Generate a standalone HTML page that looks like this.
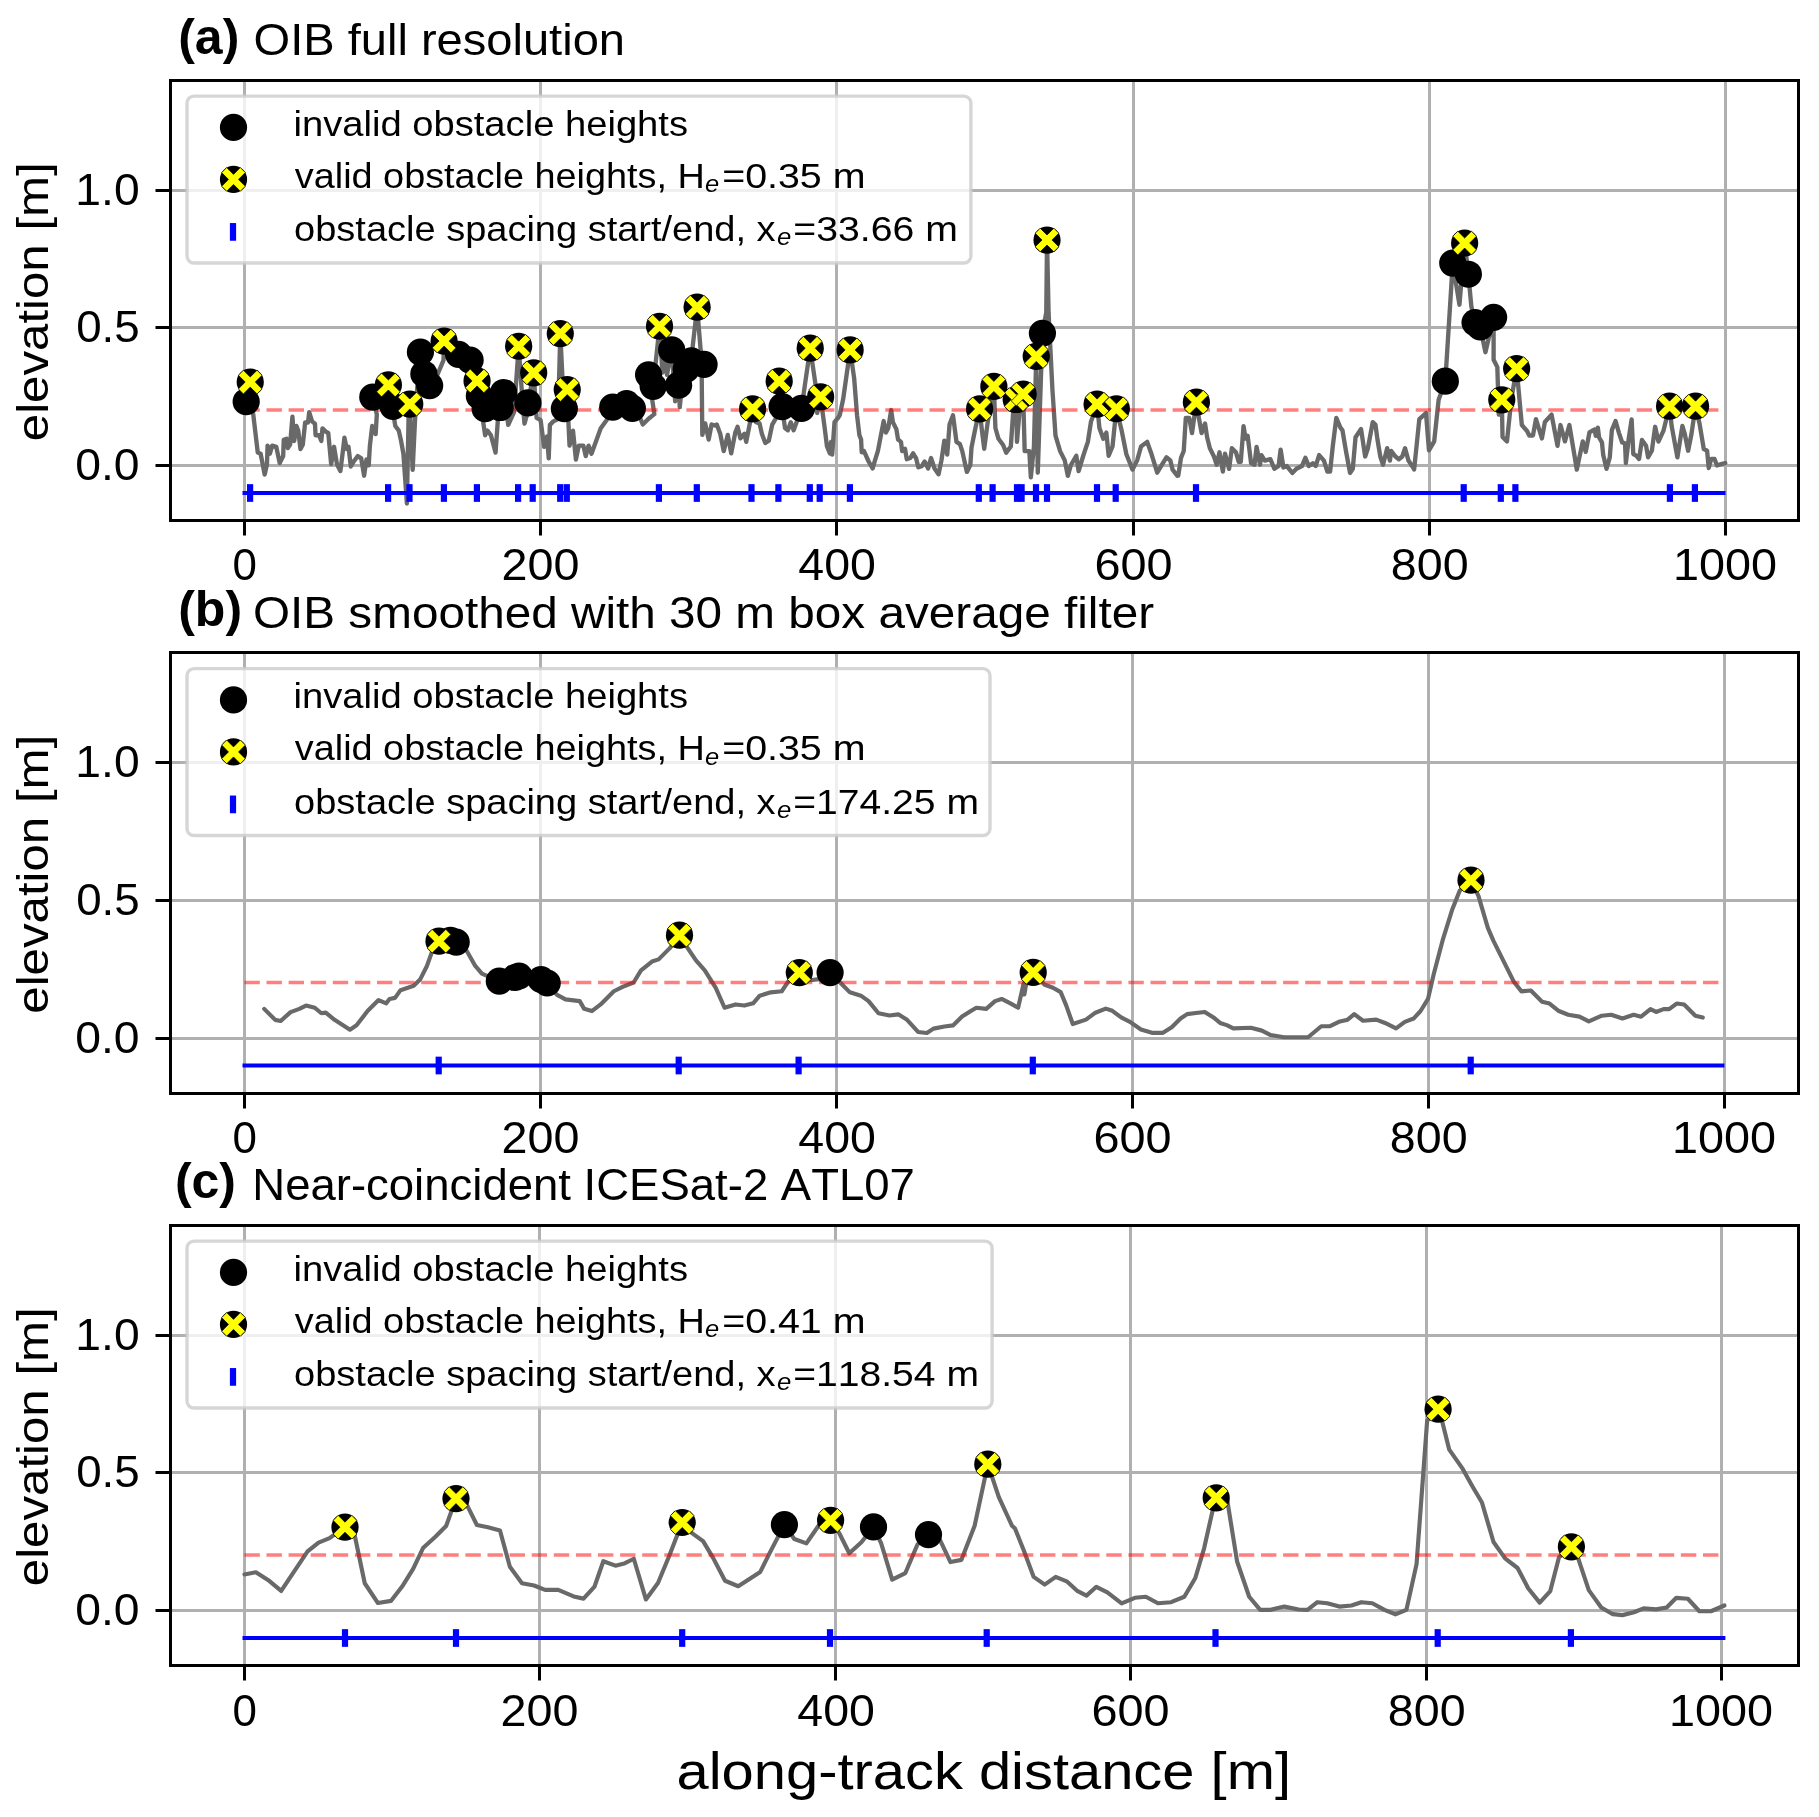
<!DOCTYPE html><html><head><meta charset="utf-8"><style>html,body{margin:0;padding:0;background:#fff;}svg{display:block;font-family:"Liberation Sans",sans-serif;font-kerning:none;will-change:transform;}</style></head><body>
<svg width="1819" height="1817" viewBox="0 0 1819 1817">
<rect width="1819" height="1817" fill="#fff"/>
<defs><clipPath id="clip0"><rect x="170.5" y="80.5" width="1628" height="440"/></clipPath></defs>
<g clip-path="url(#clip0)">
<line x1="244.5" y1="80.5" x2="244.5" y2="520.5" stroke="#b0b0b0" stroke-width="3"/>
<line x1="540.5" y1="80.5" x2="540.5" y2="520.5" stroke="#b0b0b0" stroke-width="3"/>
<line x1="836.5" y1="80.5" x2="836.5" y2="520.5" stroke="#b0b0b0" stroke-width="3"/>
<line x1="1133.5" y1="80.5" x2="1133.5" y2="520.5" stroke="#b0b0b0" stroke-width="3"/>
<line x1="1429.5" y1="80.5" x2="1429.5" y2="520.5" stroke="#b0b0b0" stroke-width="3"/>
<line x1="1725.5" y1="80.5" x2="1725.5" y2="520.5" stroke="#b0b0b0" stroke-width="3"/>
<line x1="170.5" y1="465.5" x2="1798.5" y2="465.5" stroke="#b0b0b0" stroke-width="3"/>
<line x1="170.5" y1="327.5" x2="1798.5" y2="327.5" stroke="#b0b0b0" stroke-width="3"/>
<line x1="170.5" y1="190.5" x2="1798.5" y2="190.5" stroke="#b0b0b0" stroke-width="3"/>
<polyline points="244.45,401.73 250.23,382.08 253.12,413.29 257.75,452.6 260.64,453.76 264.68,474.57 266.99,464.16 267.57,445.66 269.88,453.76 272.2,445.66 276.24,446.82 279.71,463.01 283.18,456.07 283.76,439.88 286.65,438.73 287.8,447.98 290.12,444.51 292.43,416.76 294.16,441.04 296.47,426.01 298.21,430.64 300.52,449.13 302.83,444.51 305.14,422.54 308.03,422.54 309.19,412.14 312.08,421.39 314.97,423.7 315.55,435.26 319.02,435.26 321.33,441.04 322.49,428.32 325.95,431.79 328.27,432.95 331.16,464.16 334.05,446.82 336.94,464.16 340.4,471.1 342.72,452.6 344.45,437.57 346.76,449.13 348.5,446.82 350.81,466.47 354.28,460.69 357.75,456.07 361.21,458.38 364.1,475.72 366.42,459.54 368.73,465.32 369.88,445.66 372.2,426.01 375.66,434.1 376.82,414.45 372.77,397.11 388.38,384.97 393.01,406.36 394.16,419.08 395.32,426.01 398.79,430.64 401.1,441.04 403.41,453.76 406.88,503.47 408.61,415.61 409.77,404.05 412.66,469.94 414.97,421.39 419.6,352.02 423.87,373.99 429.65,385.55 437.75,373.99 443.53,360.12 444.1,341.04 458.55,354.34 470.12,360.12 477.05,380.92 479.36,395.95 485.14,435.26 487.46,430.64 490.92,435.26 495.55,452.6 497.86,420.23 500.17,407.51 503.64,392.49 508.27,424.86 514.05,412.14 518.67,346.24 521.56,387.86 524.45,423.7 526.76,415.61 527.92,402.89 533.7,372.83 536.59,417.92 540.64,420.23 544.1,446.82 546.99,436.42 548.73,458.38 549.88,424.86 553.35,421.39 557.98,419.08 560.29,333.53 562.6,380.92 564.34,408.67 567.23,389.6 568.38,421.39 569.54,445.66 573.01,430.64 575.9,459.54 578.79,445.66 583.41,445.66 585.72,456.07 588.61,445.66 591.5,453.76 600.75,428.32 606.53,420.23 612.72,407.17 626.59,403.7 632.37,408.32 640.46,418.73 642.77,424.51 648.55,418.73 654.34,414.1 648.55,374.8 653.18,386.36 659.54,326.24 662.43,372.49 664.74,360.92 667.05,374.8 671.68,348.21 675.14,401.39 678.61,385.2 679.77,407.17 680.92,395.61 691.33,358.61 697.11,307.17 700.58,349.36 704.05,364.39 701.73,378.27 702.31,434.91 705.2,423.35 708.67,439.54 711.56,424.51 715.61,425.66 716.76,424.51 720.23,433.76 723.7,451.1 727.75,434.91 731.21,453.41 735.26,432.6 737.57,426.82 740.46,438.38 744.51,433.76 746.24,441.85 750.29,421.04 752.6,408.9 756.07,422.2 759.54,423.35 761.85,433.76 765.32,443.01 768.79,440.69 772.25,424.51 775.72,418.73 779.19,381.16 782.08,406.59 784.97,427.98 787.86,430.29 790.75,422.2 793.64,430.29 796.53,422.2 801.56,408.32 805.03,384.05 810.23,348.21 815.43,384.05 817.17,412.95 820.64,396.76 822.37,410.64 824.68,427.98 826.99,446.47 829.88,453.41 831.04,441.85 832.2,454.57 834.51,422.2 837.4,418.73 839.71,415.26 843.18,399.08 850.12,349.94 854.16,378.27 857.05,415.26 859.36,434.91 861.1,439.54 861.68,452.25 863.99,451.1 868.61,461.5 872.66,468.44 874.97,460.35 877.86,451.1 883.64,421.04 885.95,432.6 888.27,427.98 891.16,410.06 892.89,422.2 896.36,429.13 898.09,439.54 900.98,441.85 902.14,451.1 905.03,448.79 906.76,459.19 910.23,458.03 913.12,453.41 916.01,458.03 918.32,467.28 921.79,466.13 924.68,461.5 928.15,468.44 931.04,458.03 934.51,468.44 938.55,474.22 941.45,460.35 944.34,440.69 947.23,454.57 949.54,424.51 953.01,415.26 956.47,441.85 959.94,444.16 962.25,451.1 966.88,471.91 970.35,464.97 971.5,447.63 974.97,430.29 979.6,408.9 981.91,430.29 984.22,448.79 987.69,422.2 993.87,386.41 995.41,428.01 998.49,438.8 1003.11,444.96 1006.19,452.67 1010.82,446.5 1013.13,412.6 1016.21,399.51 1016.98,441.88 1020.06,404.9 1023.14,394.11 1024.68,451.12 1029.31,451.12 1030.85,477.32 1033.93,446.5 1036.24,356.36 1037.78,472.7 1042.4,333.25 1046.26,312.45 1047.03,240.03 1048.57,312.45 1052.42,389.49 1055.5,435.72 1060.12,451.12 1064.75,460.37 1067.83,475.78 1070.91,464.99 1076.3,455.75 1078.61,471.16 1083.24,455.75 1087.86,441.88 1090.94,421.85 1097.1,404.13 1099.41,428.01 1103.27,438.8 1106.35,432.63 1108.66,455.75 1112.51,446.5 1116.36,408.75 1121.76,431.09 1126.38,454.21 1132.54,469.61 1137.16,460.37 1141.02,446.5 1147.18,441.88 1151.03,452.67 1157.2,472.7 1161.82,464.99 1166.44,457.29 1170.29,460.37 1172.6,469.61 1177.23,475.78 1178.25,475.68 1181,457.82 1183.74,450.95 1185.81,417.96 1189.24,417.96 1191.99,433.08 1196.39,402.16 1198.86,417.96 1201.61,433.08 1205.05,423.46 1207.11,437.2 1209.86,448.2 1213.98,456.44 1216.73,464.69 1219.48,452.32 1222.91,471.56 1224.98,453.69 1229.1,468.81 1231.85,448.2 1235.97,452.32 1238.72,461.94 1240.78,461.94 1243.53,426.21 1245.59,438.58 1247.65,435.83 1251.09,463.32 1254.52,464.69 1256.59,446.82 1260.02,464.69 1261.4,455.07 1264.83,460.57 1270.33,459.19 1274.45,468.81 1278.58,466.06 1280.64,449.57 1283.39,467.44 1286.82,466.06 1292.32,472.94 1296.44,468.81 1301.94,466.06 1305.38,457.82 1308.81,466.06 1312.94,463.32 1315.68,466.06 1319.12,455.07 1323.93,460.57 1327.37,471.56 1330.12,471.56 1332.86,445.45 1336.3,417.96 1340.42,427.58 1342.48,430.33 1345.92,450.95 1350.04,472.94 1352.79,468.81 1355.54,437.2 1361.04,428.96 1365.16,456.44 1367.91,448.2 1372.72,422.08 1375.47,424.83 1377.53,439.95 1380.28,456.44 1383.03,464.69 1387.15,448.2 1389.9,460.57 1391.28,450.95 1395.4,456.44 1398.83,459.19 1402.27,456.44 1405.02,448.2 1408.46,460.57 1413.95,468.81 1414.12,469.63 1419.32,419.11 1426,413.16 1428.97,450.31 1434.18,441.4 1438.63,399.79 1445.32,381.22 1452.75,263.09 1459.44,304.7 1464.64,243.03 1468.35,274.23 1471.32,306.18 1475.04,322.53 1480.24,326.98 1485.44,352.24 1493.61,317.33 1493.61,359.67 1497.33,367.1 1498.81,414.65 1501.78,399.79 1502.53,436.94 1506.98,441.4 1511.44,398.31 1516.64,368.59 1521.84,425.05 1527.04,431 1529.27,435.45 1532.99,435.45 1535.96,419.11 1541.9,438.42 1544.87,422.08 1551.56,414.65 1557.5,445.85 1560.48,425.05 1564.93,441.4 1569.39,425.05 1576.82,469.63 1582.76,441.4 1585.74,451.8 1589.45,432.48 1594.65,429.51 1595.77,435.86 1597.83,427.62 1599.07,437.51 1601.96,442.46 1603.19,454.83 1606.49,468.85 1609.79,457.3 1611.85,430.09 1615.56,421.02 1618.86,432.57 1622.16,442.46 1625.05,443.29 1625.87,463.08 1628.76,438.34 1631.64,419.37 1633.29,454.01 1636.18,455.65 1639.06,458.95 1641.95,439.99 1646.07,445.76 1648.13,457.3 1651.85,450.71 1655.14,426.79 1658.44,441.64 1663.39,430.92 1669.57,406.18 1671.64,425.97 1677.41,457.3 1682.36,425.97 1684.83,434.21 1688.13,450.71 1691.43,434.21 1695.55,406.18 1699.67,424.32 1703.8,449.06 1707.09,450.71 1708.74,468.02 1711.22,458.95 1714.52,458.95 1716.99,465.55 1721.94,463.9 1725.24,463.08" fill="none" stroke="#696969" stroke-width="4.35" stroke-linejoin="round" stroke-linecap="round"/>
<line x1="244.4" y1="410" x2="1724.5" y2="410" stroke="#ff0000" stroke-opacity="0.5" stroke-width="3.7" stroke-dasharray="15.4 6.7"/>
<line x1="242.5" y1="493" x2="1725.5" y2="493" stroke="#0000ff" stroke-width="4"/>
<rect x="247" y="484.15" width="6.2" height="17.7" fill="#0000ff"/>
<rect x="385" y="484.15" width="6.2" height="17.7" fill="#0000ff"/>
<rect x="406.4" y="484.15" width="6.2" height="17.7" fill="#0000ff"/>
<rect x="440.8" y="484.15" width="6.2" height="17.7" fill="#0000ff"/>
<rect x="473.8" y="484.15" width="6.2" height="17.7" fill="#0000ff"/>
<rect x="515" y="484.15" width="6.2" height="17.7" fill="#0000ff"/>
<rect x="529.6" y="484.15" width="6.2" height="17.7" fill="#0000ff"/>
<rect x="557.1" y="484.15" width="6.2" height="17.7" fill="#0000ff"/>
<rect x="563.7" y="484.15" width="6.2" height="17.7" fill="#0000ff"/>
<rect x="655.8" y="484.15" width="6.2" height="17.7" fill="#0000ff"/>
<rect x="693.7" y="484.15" width="6.2" height="17.7" fill="#0000ff"/>
<rect x="748.4" y="484.15" width="6.2" height="17.7" fill="#0000ff"/>
<rect x="775.3" y="484.15" width="6.2" height="17.7" fill="#0000ff"/>
<rect x="806.7" y="484.15" width="6.2" height="17.7" fill="#0000ff"/>
<rect x="816.6" y="484.15" width="6.2" height="17.7" fill="#0000ff"/>
<rect x="846.8" y="484.15" width="6.2" height="17.7" fill="#0000ff"/>
<rect x="975.7" y="484.15" width="6.2" height="17.7" fill="#0000ff"/>
<rect x="989.5" y="484.15" width="6.2" height="17.7" fill="#0000ff"/>
<rect x="1013.9" y="484.15" width="6.2" height="17.7" fill="#0000ff"/>
<rect x="1018.5" y="484.15" width="6.2" height="17.7" fill="#0000ff"/>
<rect x="1032.9" y="484.15" width="6.2" height="17.7" fill="#0000ff"/>
<rect x="1043.9" y="484.15" width="6.2" height="17.7" fill="#0000ff"/>
<rect x="1093.9" y="484.15" width="6.2" height="17.7" fill="#0000ff"/>
<rect x="1112.6" y="484.15" width="6.2" height="17.7" fill="#0000ff"/>
<rect x="1192.9" y="484.15" width="6.2" height="17.7" fill="#0000ff"/>
<rect x="1460.6" y="484.15" width="6.2" height="17.7" fill="#0000ff"/>
<rect x="1497.7" y="484.15" width="6.2" height="17.7" fill="#0000ff"/>
<rect x="1512.3" y="484.15" width="6.2" height="17.7" fill="#0000ff"/>
<rect x="1666.8" y="484.15" width="6.2" height="17.7" fill="#0000ff"/>
<rect x="1691.8" y="484.15" width="6.2" height="17.7" fill="#0000ff"/>
<circle cx="752.6" cy="408.9" r="13.6" fill="#000"/>
<circle cx="979.6" cy="408.9" r="13.6" fill="#000"/>
<circle cx="1116.36" cy="408.75" r="13.6" fill="#000"/>
<circle cx="485.14" cy="408.67" r="13.6" fill="#000"/>
<circle cx="564.34" cy="408.67" r="13.6" fill="#000"/>
<circle cx="632.37" cy="408.32" r="13.6" fill="#000"/>
<circle cx="801.56" cy="408.32" r="13.6" fill="#000"/>
<circle cx="500.17" cy="407.51" r="13.6" fill="#000"/>
<circle cx="612.72" cy="407.17" r="13.6" fill="#000"/>
<circle cx="782.08" cy="406.59" r="13.6" fill="#000"/>
<circle cx="393.01" cy="406.36" r="13.6" fill="#000"/>
<circle cx="1669.57" cy="406.18" r="13.6" fill="#000"/>
<circle cx="1695.55" cy="406.18" r="13.6" fill="#000"/>
<circle cx="1097.1" cy="404.13" r="13.6" fill="#000"/>
<circle cx="409.77" cy="404.05" r="13.6" fill="#000"/>
<circle cx="626.59" cy="403.7" r="13.6" fill="#000"/>
<circle cx="527.92" cy="402.89" r="13.6" fill="#000"/>
<circle cx="1196.39" cy="402.16" r="13.6" fill="#000"/>
<circle cx="246.18" cy="401.73" r="13.6" fill="#000"/>
<circle cx="1501.78" cy="399.79" r="13.6" fill="#000"/>
<circle cx="1016.21" cy="399.51" r="13.6" fill="#000"/>
<circle cx="372.77" cy="397.11" r="13.6" fill="#000"/>
<circle cx="820.64" cy="396.76" r="13.6" fill="#000"/>
<circle cx="479.36" cy="395.95" r="13.6" fill="#000"/>
<circle cx="1023.14" cy="394.11" r="13.6" fill="#000"/>
<circle cx="503.64" cy="392.49" r="13.6" fill="#000"/>
<circle cx="567.23" cy="389.6" r="13.6" fill="#000"/>
<circle cx="993.87" cy="386.41" r="13.6" fill="#000"/>
<circle cx="653.18" cy="386.36" r="13.6" fill="#000"/>
<circle cx="429.65" cy="385.55" r="13.6" fill="#000"/>
<circle cx="678.61" cy="385.2" r="13.6" fill="#000"/>
<circle cx="388.38" cy="384.97" r="13.6" fill="#000"/>
<circle cx="250.23" cy="382.08" r="13.6" fill="#000"/>
<circle cx="1445.32" cy="381.22" r="13.6" fill="#000"/>
<circle cx="779.19" cy="381.16" r="13.6" fill="#000"/>
<circle cx="477.05" cy="380.92" r="13.6" fill="#000"/>
<circle cx="648.55" cy="374.8" r="13.6" fill="#000"/>
<circle cx="423.87" cy="373.99" r="13.6" fill="#000"/>
<circle cx="533.7" cy="372.83" r="13.6" fill="#000"/>
<circle cx="686.13" cy="369.02" r="13.6" fill="#000"/>
<circle cx="1516.64" cy="368.59" r="13.6" fill="#000"/>
<circle cx="704.05" cy="364.39" r="13.6" fill="#000"/>
<circle cx="691.33" cy="360.92" r="13.6" fill="#000"/>
<circle cx="470.12" cy="360.12" r="13.6" fill="#000"/>
<circle cx="1036.24" cy="356.36" r="13.6" fill="#000"/>
<circle cx="458.55" cy="354.34" r="13.6" fill="#000"/>
<circle cx="420.4" cy="352.02" r="13.6" fill="#000"/>
<circle cx="671.68" cy="349.94" r="13.6" fill="#000"/>
<circle cx="850.12" cy="349.94" r="13.6" fill="#000"/>
<circle cx="810.23" cy="348.21" r="13.6" fill="#000"/>
<circle cx="518.67" cy="346.24" r="13.6" fill="#000"/>
<circle cx="444.1" cy="341.04" r="13.6" fill="#000"/>
<circle cx="560.29" cy="333.53" r="13.6" fill="#000"/>
<circle cx="1042.4" cy="333.25" r="13.6" fill="#000"/>
<circle cx="1480.24" cy="326.98" r="13.6" fill="#000"/>
<circle cx="659.54" cy="326.24" r="13.6" fill="#000"/>
<circle cx="1475.04" cy="322.53" r="13.6" fill="#000"/>
<circle cx="1493.61" cy="317.33" r="13.6" fill="#000"/>
<circle cx="697.11" cy="307.17" r="13.6" fill="#000"/>
<circle cx="1468.35" cy="274.23" r="13.6" fill="#000"/>
<circle cx="1452.75" cy="263.09" r="13.6" fill="#000"/>
<circle cx="1464.64" cy="243.03" r="13.6" fill="#000"/>
<circle cx="1047.03" cy="240.03" r="13.6" fill="#000"/>
<polygon points="752.6,413.92 759.42,420.75 764.45,415.73 757.62,408.9 764.45,402.08 759.42,397.06 752.6,403.88 745.78,397.06 740.76,402.08 747.58,408.9 740.76,415.73 745.78,420.75" fill="#ffff00" stroke="#000" stroke-width="0.7"/>
<polygon points="979.6,413.92 986.42,420.75 991.44,415.73 984.62,408.9 991.44,402.08 986.42,397.06 979.6,403.88 972.77,397.06 967.75,402.08 974.57,408.9 967.75,415.73 972.77,420.75" fill="#ffff00" stroke="#000" stroke-width="0.7"/>
<polygon points="1116.36,413.77 1123.19,420.6 1128.21,415.58 1121.38,408.75 1128.21,401.93 1123.19,396.91 1116.36,403.73 1109.54,396.91 1104.52,401.93 1111.34,408.75 1104.52,415.58 1109.54,420.6" fill="#ffff00" stroke="#000" stroke-width="0.7"/>
<polygon points="1669.57,411.2 1676.4,418.02 1681.42,413 1674.59,406.18 1681.42,399.35 1676.4,394.33 1669.57,401.16 1662.75,394.33 1657.73,399.35 1664.55,406.18 1657.73,413 1662.75,418.02" fill="#ffff00" stroke="#000" stroke-width="0.7"/>
<polygon points="1695.55,411.2 1702.37,418.02 1707.39,413 1700.57,406.18 1707.39,399.35 1702.37,394.33 1695.55,401.16 1688.73,394.33 1683.71,399.35 1690.53,406.18 1683.71,413 1688.73,418.02" fill="#ffff00" stroke="#000" stroke-width="0.7"/>
<polygon points="1097.1,409.15 1103.93,415.97 1108.95,410.95 1102.12,404.13 1108.95,397.31 1103.93,392.29 1097.1,399.11 1090.28,392.29 1085.26,397.31 1092.08,404.13 1085.26,410.95 1090.28,415.97" fill="#ffff00" stroke="#000" stroke-width="0.7"/>
<polygon points="409.77,409.07 416.59,415.89 421.61,410.87 414.79,404.05 421.61,397.22 416.59,392.2 409.77,399.03 402.95,392.2 397.92,397.22 404.75,404.05 397.92,410.87 402.95,415.89" fill="#ffff00" stroke="#000" stroke-width="0.7"/>
<polygon points="1196.39,407.18 1203.21,414 1208.23,408.98 1201.41,402.16 1208.23,395.33 1203.21,390.31 1196.39,397.13 1189.56,390.31 1184.54,395.33 1191.37,402.16 1184.54,408.98 1189.56,414" fill="#ffff00" stroke="#000" stroke-width="0.7"/>
<polygon points="1501.78,404.81 1508.61,411.64 1513.63,406.62 1506.8,399.79 1513.63,392.97 1508.61,387.95 1501.78,394.77 1494.96,387.95 1489.94,392.97 1496.76,399.79 1489.94,406.62 1494.96,411.64" fill="#ffff00" stroke="#000" stroke-width="0.7"/>
<polygon points="1016.21,404.53 1023.03,411.35 1028.05,406.33 1021.23,399.51 1028.05,392.68 1023.03,387.66 1016.21,394.49 1009.39,387.66 1004.37,392.68 1011.19,399.51 1004.37,406.33 1009.39,411.35" fill="#ffff00" stroke="#000" stroke-width="0.7"/>
<polygon points="820.64,401.78 827.46,408.61 832.48,403.59 825.66,396.76 832.48,389.94 827.46,384.92 820.64,391.74 813.81,384.92 808.79,389.94 815.62,396.76 808.79,403.59 813.81,408.61" fill="#ffff00" stroke="#000" stroke-width="0.7"/>
<polygon points="1023.14,399.13 1029.97,405.96 1034.99,400.94 1028.16,394.11 1034.99,387.29 1029.97,382.27 1023.14,389.09 1016.32,382.27 1011.3,387.29 1018.12,394.11 1011.3,400.94 1016.32,405.96" fill="#ffff00" stroke="#000" stroke-width="0.7"/>
<polygon points="567.23,394.62 574.05,401.44 579.07,396.42 572.25,389.6 579.07,382.77 574.05,377.75 567.23,384.57 560.4,377.75 555.38,382.77 562.2,389.6 555.38,396.42 560.4,401.44" fill="#ffff00" stroke="#000" stroke-width="0.7"/>
<polygon points="993.87,391.43 1000.69,398.25 1005.71,393.23 998.89,386.41 1005.71,379.59 1000.69,374.57 993.87,381.39 987.04,374.57 982.02,379.59 988.85,386.41 982.02,393.23 987.04,398.25" fill="#ffff00" stroke="#000" stroke-width="0.7"/>
<polygon points="388.38,389.99 395.21,396.82 400.23,391.79 393.4,384.97 400.23,378.15 395.21,373.13 388.38,379.95 381.56,373.13 376.54,378.15 383.36,384.97 376.54,391.79 381.56,396.82" fill="#ffff00" stroke="#000" stroke-width="0.7"/>
<polygon points="250.23,387.1 257.05,393.92 262.08,388.9 255.25,382.08 262.08,375.26 257.05,370.24 250.23,377.06 243.41,370.24 238.39,375.26 245.21,382.08 238.39,388.9 243.41,393.92" fill="#ffff00" stroke="#000" stroke-width="0.7"/>
<polygon points="779.19,386.18 786.01,393 791.03,387.98 784.21,381.16 791.03,374.33 786.01,369.31 779.19,376.14 772.37,369.31 767.35,374.33 774.17,381.16 767.35,387.98 772.37,393" fill="#ffff00" stroke="#000" stroke-width="0.7"/>
<polygon points="477.05,385.95 483.88,392.77 488.9,387.75 482.07,380.92 488.9,374.1 483.88,369.08 477.05,375.9 470.23,369.08 465.21,374.1 472.03,380.92 465.21,387.75 470.23,392.77" fill="#ffff00" stroke="#000" stroke-width="0.7"/>
<polygon points="533.7,377.85 540.52,384.68 545.54,379.66 538.72,372.83 545.54,366.01 540.52,360.99 533.7,367.81 526.88,360.99 521.86,366.01 528.68,372.83 521.86,379.66 526.88,384.68" fill="#ffff00" stroke="#000" stroke-width="0.7"/>
<polygon points="1516.64,373.61 1523.47,380.43 1528.49,375.41 1521.66,368.59 1528.49,361.76 1523.47,356.74 1516.64,363.57 1509.82,356.74 1504.8,361.76 1511.62,368.59 1504.8,375.41 1509.82,380.43" fill="#ffff00" stroke="#000" stroke-width="0.7"/>
<polygon points="1036.24,361.38 1043.06,368.21 1048.08,363.19 1041.26,356.36 1048.08,349.54 1043.06,344.52 1036.24,351.34 1029.42,344.52 1024.4,349.54 1031.22,356.36 1024.4,363.19 1029.42,368.21" fill="#ffff00" stroke="#000" stroke-width="0.7"/>
<polygon points="850.12,354.96 856.94,361.79 861.96,356.77 855.14,349.94 861.96,343.12 856.94,338.1 850.12,344.92 843.29,338.1 838.27,343.12 845.1,349.94 838.27,356.77 843.29,361.79" fill="#ffff00" stroke="#000" stroke-width="0.7"/>
<polygon points="810.23,353.23 817.05,360.05 822.08,355.03 815.25,348.21 822.08,341.38 817.05,336.36 810.23,343.19 803.41,336.36 798.39,341.38 805.21,348.21 798.39,355.03 803.41,360.05" fill="#ffff00" stroke="#000" stroke-width="0.7"/>
<polygon points="518.67,351.26 525.49,358.09 530.51,353.07 523.69,346.24 530.51,339.42 525.49,334.4 518.67,341.22 511.85,334.4 506.83,339.42 513.65,346.24 506.83,353.07 511.85,358.09" fill="#ffff00" stroke="#000" stroke-width="0.7"/>
<polygon points="444.1,346.06 450.93,352.88 455.95,347.86 449.12,341.04 455.95,334.22 450.93,329.2 444.1,336.02 437.28,329.2 432.26,334.22 439.08,341.04 432.26,347.86 437.28,352.88" fill="#ffff00" stroke="#000" stroke-width="0.7"/>
<polygon points="560.29,338.55 567.11,345.37 572.13,340.35 565.31,333.53 572.13,326.7 567.11,321.68 560.29,328.51 553.47,321.68 548.44,326.7 555.27,333.53 548.44,340.35 553.47,345.37" fill="#ffff00" stroke="#000" stroke-width="0.7"/>
<polygon points="659.54,331.26 666.36,338.09 671.38,333.07 664.56,326.24 671.38,319.42 666.36,314.4 659.54,321.22 652.71,314.4 647.69,319.42 654.52,326.24 647.69,333.07 652.71,338.09" fill="#ffff00" stroke="#000" stroke-width="0.7"/>
<polygon points="697.11,312.19 703.93,319.01 708.95,313.99 702.13,307.17 708.95,300.34 703.93,295.32 697.11,302.15 690.29,295.32 685.27,300.34 692.09,307.17 685.27,313.99 690.29,319.01" fill="#ffff00" stroke="#000" stroke-width="0.7"/>
<polygon points="1464.64,248.05 1471.46,254.88 1476.48,249.85 1469.66,243.03 1476.48,236.21 1471.46,231.19 1464.64,238.01 1457.81,231.19 1452.79,236.21 1459.62,243.03 1452.79,249.85 1457.81,254.88" fill="#ffff00" stroke="#000" stroke-width="0.7"/>
<polygon points="1047.03,245.05 1053.85,251.87 1058.87,246.85 1052.05,240.03 1058.87,233.21 1053.85,228.19 1047.03,235.01 1040.2,228.19 1035.18,233.21 1042.01,240.03 1035.18,246.85 1040.2,251.87" fill="#ffff00" stroke="#000" stroke-width="0.7"/>
</g>
<rect x="170.5" y="80.5" width="1628" height="440" fill="none" stroke="#000" stroke-width="3" stroke-linejoin="miter"/>
<line x1="244.5" y1="520.5" x2="244.5" y2="535.5" stroke="#000" stroke-width="3"/>
<line x1="540.5" y1="520.5" x2="540.5" y2="535.5" stroke="#000" stroke-width="3"/>
<line x1="836.5" y1="520.5" x2="836.5" y2="535.5" stroke="#000" stroke-width="3"/>
<line x1="1133.5" y1="520.5" x2="1133.5" y2="535.5" stroke="#000" stroke-width="3"/>
<line x1="1429.5" y1="520.5" x2="1429.5" y2="535.5" stroke="#000" stroke-width="3"/>
<line x1="1725.5" y1="520.5" x2="1725.5" y2="535.5" stroke="#000" stroke-width="3"/>
<line x1="155.5" y1="465.5" x2="170.5" y2="465.5" stroke="#000" stroke-width="3"/>
<line x1="155.5" y1="327.5" x2="170.5" y2="327.5" stroke="#000" stroke-width="3"/>
<line x1="155.5" y1="190.5" x2="170.5" y2="190.5" stroke="#000" stroke-width="3"/>
<text transform="translate(232.59 580.3) scale(0.9938 1)" font-size="44.2" fill="#000">0</text>
<text transform="translate(501.59 580.3) scale(1.0562 1)" font-size="44.2" fill="#000">200</text>
<text transform="translate(798.37 580.3) scale(1.0525 1)" font-size="44.2" fill="#000">400</text>
<text transform="translate(1094.49 580.3) scale(1.0585 1)" font-size="44.2" fill="#000">600</text>
<text transform="translate(1390.8 580.3) scale(1.0548 1)" font-size="44.2" fill="#000">800</text>
<text transform="translate(1672.88 580.3) scale(1.0586 1)" font-size="44.2" fill="#000">1000</text>
<text transform="translate(75.24 480.1) scale(1.0477 1)" font-size="44.2" fill="#000">0.0</text>
<text transform="translate(76.13 342.1) scale(1.0349 1)" font-size="44.2" fill="#000">0.5</text>
<text transform="translate(75.36 205.1) scale(1.0457 1)" font-size="44.2" fill="#000">1.0</text>
<g transform="translate(48.4 302.4) rotate(-90)">
<text transform="translate(-138.76 0) scale(1.1310 1)" font-size="43.5" fill="#000">elevation [m]</text>
</g>
<text x="178.21" y="53.7" font-size="50" font-weight="bold">(a)</text>
<text transform="translate(253.57 54.8) scale(1.0700 1)" font-size="44" fill="#000">OIB full resolution</text>
<rect x="187" y="96.1" width="783.9" height="166.9" rx="7" ry="7" fill="#fff" fill-opacity="0.8" stroke="#cccccc" stroke-opacity="0.8" stroke-width="3.4"/>
<circle cx="233.5" cy="127.4" r="13.6" fill="#000"/>
<circle cx="233.5" cy="179.4" r="13.6" fill="#000"/><polygon points="233.5,184.42 240.32,191.24 245.34,186.22 238.52,179.4 245.34,172.58 240.32,167.56 233.5,174.38 226.68,167.56 221.66,172.58 228.48,179.4 221.66,186.22 226.68,191.24" fill="#ffff00" stroke="#000" stroke-width="0.7"/>
<rect x="229.9" y="223.05" width="6.2" height="17.7" fill="#0000ff"/>
<text transform="translate(293.45 135.8) scale(1.0937 1)" font-size="34.9" fill="#000">invalid obstacle heights</text>
<text transform="translate(294.77 187.7) scale(1.0844 1)" font-size="34.9" fill="#000">valid obstacle heights, H</text>
<text transform="translate(704.94 192.4) scale(1.0471 1)" font-size="24.4" font-style="italic" fill="#000">e</text>
<text transform="translate(722.18 187.7) scale(1.1281 1)" font-size="34.9" fill="#000">=0.35 m</text>
<text transform="translate(294.1 241) scale(1.0890 1)" font-size="34.9" fill="#000">obstacle spacing start/end, x</text>
<text transform="translate(777.03 245.4) scale(1.0555 1)" font-size="24.4" font-style="italic" fill="#000">e</text>
<text transform="translate(793.29 241) scale(1.1233 1)" font-size="34.9" fill="#000">=33.66 m</text>
<defs><clipPath id="clip1"><rect x="170.5" y="652.5" width="1628" height="441"/></clipPath></defs>
<g clip-path="url(#clip1)">
<line x1="244.5" y1="652.5" x2="244.5" y2="1093.5" stroke="#b0b0b0" stroke-width="3"/>
<line x1="540.5" y1="652.5" x2="540.5" y2="1093.5" stroke="#b0b0b0" stroke-width="3"/>
<line x1="836.5" y1="652.5" x2="836.5" y2="1093.5" stroke="#b0b0b0" stroke-width="3"/>
<line x1="1132.5" y1="652.5" x2="1132.5" y2="1093.5" stroke="#b0b0b0" stroke-width="3"/>
<line x1="1428.5" y1="652.5" x2="1428.5" y2="1093.5" stroke="#b0b0b0" stroke-width="3"/>
<line x1="1724.5" y1="652.5" x2="1724.5" y2="1093.5" stroke="#b0b0b0" stroke-width="3"/>
<line x1="170.5" y1="1038.5" x2="1798.5" y2="1038.5" stroke="#b0b0b0" stroke-width="3"/>
<line x1="170.5" y1="900.5" x2="1798.5" y2="900.5" stroke="#b0b0b0" stroke-width="3"/>
<line x1="170.5" y1="762.5" x2="1798.5" y2="762.5" stroke="#b0b0b0" stroke-width="3"/>
<polyline points="264.19,1008.85 275.18,1019.85 280.68,1020.95 290.58,1012.15 299.37,1008.85 305.97,1005.55 314.77,1007.75 321.36,1013.25 325.76,1012.59 334.56,1019.85 349.95,1029.74 356.55,1025.34 367.54,1011.05 378.54,1000.05 386.23,1003.35 389.53,998.96 395.03,997.86 400.53,990.16 413.72,985.76 420.32,979.16 426.92,965.97 432.41,950.58 439.01,941.78 456.6,942.88 466.5,950.58 475.29,965.97 481.89,973.67 499.48,981.36 518.17,975.87 540.16,979.16 546.76,982.46 556.66,994.56 565.45,999.4 579.75,1001.15 584.15,1008.85 591.84,1011.05 600.64,1004.45 613.83,991.26 622.63,986.86 633.62,982.46 641,970.37 651.99,961.57 658.59,959.37 669.58,948.38 679.48,935.18 687.17,947.28 695.97,960.47 704.77,970.37 715.76,987.96 724.56,1007.75 735.55,1004.45 744.35,1005.55 753.14,1003.35 759.74,995.66 770.74,992.36 781.73,991.26 788.33,981.36 799.32,972.57 810.32,980.26 819.11,979.16 830.11,972.57 841.11,983.56 849.9,992.36 860.9,995.66 868.59,1001.15 878.49,1013.25 889.48,1015.45 898.28,1014.35 907.08,1019.85 918.07,1031.94 926.87,1033.04 933.46,1028.64 944.46,1026.44 953.25,1025.34 962.05,1016.55 970.85,1011.05 976.34,1007.75 986.24,1008.85 995.04,1001.15 1001.63,998.96 1010.43,1003.35 1018.13,1007.75 1023.62,983.56 1024.4,994.35 1026.6,981.15 1033.19,972.36 1044.19,984.45 1052.99,987.75 1060.68,992.15 1066.18,1005.34 1072.78,1024.04 1085.97,1019.64 1094.77,1013.04 1105.76,1008.64 1112.36,1010.84 1121.15,1017.44 1129.95,1021.84 1140.95,1029.53 1151.94,1032.83 1162.94,1032.83 1171.73,1027.33 1180.53,1018.54 1187.12,1014.14 1195.92,1013.04 1204.72,1011.94 1213.51,1017.44 1220.11,1022.94 1226.71,1025.13 1233.3,1028.43 1250.9,1027.77 1261.89,1030.63 1270.69,1035.03 1283.88,1037.23 1294.88,1037.23 1308.07,1037.23 1321.26,1026.23 1330.06,1026.23 1338.86,1021.84 1347.65,1019.64 1354.25,1014.14 1363.05,1020.74 1376.24,1019.64 1385.04,1022.94 1396.03,1028.43 1404.83,1021.84 1413.62,1018.54 1420.56,1011.03 1428.04,998.88 1433.64,974.58 1442.99,939.07 1452.34,909.16 1459.81,890.47 1471.03,880.19 1478.5,896.07 1487.85,927.85 1493.46,940.93 1504.67,963.36 1514.02,982.06 1521.5,991.4 1530.84,990.47 1542.06,1001.68 1549.53,1003.55 1558.88,1011.03 1568.22,1014.77 1579.44,1016.64 1588.79,1021.31 1601.87,1015.7 1611.21,1014.77 1622.43,1018.5 1633.64,1014.77 1641.12,1016.64 1650.47,1009.16 1656.07,1011.96 1663.55,1009.16 1669.16,1009.16 1676.64,1003.55 1684.11,1004.49 1695.33,1015.7 1702.8,1017.57" fill="none" stroke="#696969" stroke-width="4.15" stroke-linejoin="round" stroke-linecap="round"/>
<line x1="244.4" y1="982.5" x2="1723.4" y2="982.5" stroke="#ff0000" stroke-opacity="0.5" stroke-width="3.7" stroke-dasharray="15.4 6.7"/>
<line x1="242.5" y1="1065.5" x2="1724.4" y2="1065.5" stroke="#0000ff" stroke-width="4"/>
<rect x="435.6" y="1056.65" width="6.2" height="17.7" fill="#0000ff"/>
<rect x="675.6" y="1056.65" width="6.2" height="17.7" fill="#0000ff"/>
<rect x="795.5" y="1056.65" width="6.2" height="17.7" fill="#0000ff"/>
<rect x="1029.7" y="1056.65" width="6.2" height="17.7" fill="#0000ff"/>
<rect x="1467.6" y="1056.65" width="6.2" height="17.7" fill="#0000ff"/>
<circle cx="547.2" cy="983" r="13.6" fill="#000"/>
<circle cx="499.3" cy="981.2" r="13.6" fill="#000"/>
<circle cx="541" cy="979.5" r="13.6" fill="#000"/>
<circle cx="515.1" cy="977.5" r="13.6" fill="#000"/>
<circle cx="519.1" cy="976" r="13.6" fill="#000"/>
<circle cx="799.3" cy="972.6" r="13.6" fill="#000"/>
<circle cx="830.1" cy="972.6" r="13.6" fill="#000"/>
<circle cx="1033.2" cy="972.4" r="13.6" fill="#000"/>
<circle cx="456.2" cy="942.1" r="13.6" fill="#000"/>
<circle cx="439" cy="941.2" r="13.6" fill="#000"/>
<circle cx="450.5" cy="940.3" r="13.6" fill="#000"/>
<circle cx="679.5" cy="935.2" r="13.6" fill="#000"/>
<circle cx="1471" cy="880.2" r="13.6" fill="#000"/>
<polygon points="799.3,977.62 806.12,984.44 811.14,979.42 804.32,972.6 811.14,965.78 806.12,960.76 799.3,967.58 792.48,960.76 787.46,965.78 794.28,972.6 787.46,979.42 792.48,984.44" fill="#ffff00" stroke="#000" stroke-width="0.7"/>
<polygon points="1033.2,977.42 1040.02,984.24 1045.04,979.22 1038.22,972.4 1045.04,965.58 1040.02,960.56 1033.2,967.38 1026.38,960.56 1021.36,965.58 1028.18,972.4 1021.36,979.22 1026.38,984.24" fill="#ffff00" stroke="#000" stroke-width="0.7"/>
<polygon points="439,946.22 445.82,953.04 450.84,948.02 444.02,941.2 450.84,934.38 445.82,929.36 439,936.18 432.18,929.36 427.16,934.38 433.98,941.2 427.16,948.02 432.18,953.04" fill="#ffff00" stroke="#000" stroke-width="0.7"/>
<polygon points="679.5,940.22 686.32,947.04 691.34,942.02 684.52,935.2 691.34,928.38 686.32,923.36 679.5,930.18 672.68,923.36 667.66,928.38 674.48,935.2 667.66,942.02 672.68,947.04" fill="#ffff00" stroke="#000" stroke-width="0.7"/>
<polygon points="1471,885.22 1477.82,892.04 1482.84,887.02 1476.02,880.2 1482.84,873.38 1477.82,868.36 1471,875.18 1464.18,868.36 1459.16,873.38 1465.98,880.2 1459.16,887.02 1464.18,892.04" fill="#ffff00" stroke="#000" stroke-width="0.7"/>
</g>
<rect x="170.5" y="652.5" width="1628" height="441" fill="none" stroke="#000" stroke-width="3" stroke-linejoin="miter"/>
<line x1="244.5" y1="1093.5" x2="244.5" y2="1108.5" stroke="#000" stroke-width="3"/>
<line x1="540.5" y1="1093.5" x2="540.5" y2="1108.5" stroke="#000" stroke-width="3"/>
<line x1="836.5" y1="1093.5" x2="836.5" y2="1108.5" stroke="#000" stroke-width="3"/>
<line x1="1132.5" y1="1093.5" x2="1132.5" y2="1108.5" stroke="#000" stroke-width="3"/>
<line x1="1428.5" y1="1093.5" x2="1428.5" y2="1108.5" stroke="#000" stroke-width="3"/>
<line x1="1724.5" y1="1093.5" x2="1724.5" y2="1108.5" stroke="#000" stroke-width="3"/>
<line x1="155.5" y1="1038.5" x2="170.5" y2="1038.5" stroke="#000" stroke-width="3"/>
<line x1="155.5" y1="900.5" x2="170.5" y2="900.5" stroke="#000" stroke-width="3"/>
<line x1="155.5" y1="762.5" x2="170.5" y2="762.5" stroke="#000" stroke-width="3"/>
<text transform="translate(232.59 1153.2) scale(0.9938 1)" font-size="44.2" fill="#000">0</text>
<text transform="translate(501.59 1153.2) scale(1.0562 1)" font-size="44.2" fill="#000">200</text>
<text transform="translate(798.37 1153.2) scale(1.0525 1)" font-size="44.2" fill="#000">400</text>
<text transform="translate(1093.49 1153.2) scale(1.0585 1)" font-size="44.2" fill="#000">600</text>
<text transform="translate(1389.8 1153.2) scale(1.0548 1)" font-size="44.2" fill="#000">800</text>
<text transform="translate(1671.88 1153.2) scale(1.0586 1)" font-size="44.2" fill="#000">1000</text>
<text transform="translate(75.24 1053.1) scale(1.0477 1)" font-size="44.2" fill="#000">0.0</text>
<text transform="translate(76.13 915.1) scale(1.0349 1)" font-size="44.2" fill="#000">0.5</text>
<text transform="translate(75.36 777.1) scale(1.0457 1)" font-size="44.2" fill="#000">1.0</text>
<g transform="translate(48.4 874.9) rotate(-90)">
<text transform="translate(-138.76 0) scale(1.1310 1)" font-size="43.5" fill="#000">elevation [m]</text>
</g>
<text x="178.21" y="625.75" font-size="50" font-weight="bold">(b)</text>
<text transform="translate(252.94 627.8) scale(1.0840 1)" font-size="44" fill="#000">OIB smoothed with 30 m box average filter</text>
<rect x="187" y="668.6" width="803" height="166.9" rx="7" ry="7" fill="#fff" fill-opacity="0.8" stroke="#cccccc" stroke-opacity="0.8" stroke-width="3.4"/>
<circle cx="233.5" cy="699.9" r="13.6" fill="#000"/>
<circle cx="233.5" cy="751.9" r="13.6" fill="#000"/><polygon points="233.5,756.92 240.32,763.74 245.34,758.72 238.52,751.9 245.34,745.08 240.32,740.06 233.5,746.88 226.68,740.06 221.66,745.08 228.48,751.9 221.66,758.72 226.68,763.74" fill="#ffff00" stroke="#000" stroke-width="0.7"/>
<rect x="229.9" y="795.55" width="6.2" height="17.7" fill="#0000ff"/>
<text transform="translate(293.45 708.3) scale(1.0937 1)" font-size="34.9" fill="#000">invalid obstacle heights</text>
<text transform="translate(294.77 760.2) scale(1.0844 1)" font-size="34.9" fill="#000">valid obstacle heights, H</text>
<text transform="translate(704.94 764.9) scale(1.0471 1)" font-size="24.4" font-style="italic" fill="#000">e</text>
<text transform="translate(722.18 760.2) scale(1.1281 1)" font-size="34.9" fill="#000">=0.35 m</text>
<text transform="translate(294.1 813.5) scale(1.0890 1)" font-size="34.9" fill="#000">obstacle spacing start/end, x</text>
<text transform="translate(777.03 817.9) scale(1.0555 1)" font-size="24.4" font-style="italic" fill="#000">e</text>
<text transform="translate(793.29 813.5) scale(1.1196 1)" font-size="34.9" fill="#000">=174.25 m</text>
<defs><clipPath id="clip2"><rect x="170.5" y="1225.5" width="1628" height="440"/></clipPath></defs>
<g clip-path="url(#clip2)">
<line x1="244.5" y1="1225.5" x2="244.5" y2="1665.5" stroke="#b0b0b0" stroke-width="3"/>
<line x1="539.5" y1="1225.5" x2="539.5" y2="1665.5" stroke="#b0b0b0" stroke-width="3"/>
<line x1="835.5" y1="1225.5" x2="835.5" y2="1665.5" stroke="#b0b0b0" stroke-width="3"/>
<line x1="1130.5" y1="1225.5" x2="1130.5" y2="1665.5" stroke="#b0b0b0" stroke-width="3"/>
<line x1="1426.5" y1="1225.5" x2="1426.5" y2="1665.5" stroke="#b0b0b0" stroke-width="3"/>
<line x1="1721.5" y1="1225.5" x2="1721.5" y2="1665.5" stroke="#b0b0b0" stroke-width="3"/>
<line x1="170.5" y1="1610.5" x2="1798.5" y2="1610.5" stroke="#b0b0b0" stroke-width="3"/>
<line x1="170.5" y1="1472.5" x2="1798.5" y2="1472.5" stroke="#b0b0b0" stroke-width="3"/>
<line x1="170.5" y1="1335.5" x2="1798.5" y2="1335.5" stroke="#b0b0b0" stroke-width="3"/>
<polyline points="244.46,1574.45 255.89,1572.25 267.99,1579.95 281.18,1590.95 294.37,1571.15 307.57,1551.36 318.56,1542.57 329.56,1538.17 344.95,1527.17 354.85,1535.97 364.74,1583.25 377.94,1603.04 391.13,1600.84 402.12,1586.55 413.12,1568.96 423.02,1548.06 435.11,1537.07 446.11,1526.07 456,1498.59 467,1505.18 476.89,1524.98 487.89,1527.17 499.98,1530.47 509.88,1566.76 521.97,1583.25 534.07,1585.45 545.06,1589.85 558.25,1589.85 573.65,1596.44 583.54,1598.64 594.54,1586.55 603.33,1561.26 615.43,1565.66 624.22,1563.46 625,1563.14 633.8,1558.75 645.89,1599.43 657.99,1582.94 668.98,1556.55 682.17,1522.46 690.97,1532.36 703.06,1541.15 712.96,1557.65 725.05,1580.74 738.25,1586.23 760.24,1571.94 770.13,1552.15 784.43,1524.66 794.32,1538.96 806.42,1543.35 818.51,1525.76 830.61,1520.26 839.4,1533.46 849.3,1553.25 861.39,1542.25 873.49,1526.86 881.18,1543.35 892.18,1579.64 905.37,1573.04 917.47,1544.45 928.46,1534.56 939.46,1538.96 950.45,1562.05 961.45,1559.85 974.64,1525.76 987.84,1464.19 998.83,1497.17 1012.03,1525.76 1015,1528.54 1023.8,1550.53 1033.69,1576.92 1044.69,1584.61 1055.68,1576.92 1066.68,1581.31 1077.67,1591.21 1086.47,1595.61 1096.36,1586.81 1107.36,1592.31 1121.65,1603.3 1134.85,1597.81 1145.84,1596.71 1157.94,1603.3 1171.13,1602.2 1184.32,1596.71 1195.32,1578.02 1204.11,1548.33 1214.01,1504.35 1216.21,1497.75 1227.2,1499.95 1237.1,1561.52 1249.19,1596.71 1260.19,1609.9 1270.09,1609.9 1284.38,1606.6 1298.67,1609.46 1307.47,1609.9 1317.36,1602.2 1327.26,1603.3 1339.35,1606.6 1351.45,1605.5 1361.34,1602.2 1372.34,1603.3 1384.43,1609.9 1395.43,1614.3 1406.42,1609.9 1416.55,1564.14 1422.32,1486.21 1427.13,1420.79 1438.1,1409.24 1442.52,1422.71 1449.26,1449.65 1462.73,1468.89 1472.35,1486.21 1481.97,1502.56 1493.51,1542.01 1505.06,1558.37 1517.56,1567.99 1528.15,1588.19 1539.69,1602.62 1550.28,1591.08 1558.93,1557.4 1571.44,1546.82 1578.18,1558.37 1588.76,1590.12 1601.27,1607.43 1612.81,1614.17 1622.43,1615.13 1633.98,1612.24 1643.6,1608.4 1656.11,1609.36 1666.69,1607.43 1676.31,1597.81 1687.86,1598.77 1699.4,1611.28 1710.95,1611.28 1724.42,1605.51" fill="none" stroke="#696969" stroke-width="4.15" stroke-linejoin="round" stroke-linecap="round"/>
<line x1="244.4" y1="1555" x2="1724.4" y2="1555" stroke="#ff0000" stroke-opacity="0.5" stroke-width="3.7" stroke-dasharray="15.4 6.7"/>
<line x1="242.5" y1="1638" x2="1725.4" y2="1638" stroke="#0000ff" stroke-width="4"/>
<rect x="341.9" y="1629.15" width="6.2" height="17.7" fill="#0000ff"/>
<rect x="452.9" y="1629.15" width="6.2" height="17.7" fill="#0000ff"/>
<rect x="679.1" y="1629.15" width="6.2" height="17.7" fill="#0000ff"/>
<rect x="826.9" y="1629.15" width="6.2" height="17.7" fill="#0000ff"/>
<rect x="983.6" y="1629.15" width="6.2" height="17.7" fill="#0000ff"/>
<rect x="1212.4" y="1629.15" width="6.2" height="17.7" fill="#0000ff"/>
<rect x="1434.6" y="1629.15" width="6.2" height="17.7" fill="#0000ff"/>
<rect x="1567.8" y="1629.15" width="6.2" height="17.7" fill="#0000ff"/>
<circle cx="1571.4" cy="1546.8" r="13.6" fill="#000"/>
<circle cx="928.5" cy="1534.6" r="13.6" fill="#000"/>
<circle cx="345" cy="1527.2" r="13.6" fill="#000"/>
<circle cx="873.5" cy="1526.9" r="13.6" fill="#000"/>
<circle cx="784.4" cy="1524.7" r="13.6" fill="#000"/>
<circle cx="682.2" cy="1522.5" r="13.6" fill="#000"/>
<circle cx="830.6" cy="1520.3" r="13.6" fill="#000"/>
<circle cx="456" cy="1498.6" r="13.6" fill="#000"/>
<circle cx="1216.2" cy="1497.8" r="13.6" fill="#000"/>
<circle cx="987.8" cy="1464.2" r="13.6" fill="#000"/>
<circle cx="1438.1" cy="1409.2" r="13.6" fill="#000"/>
<polygon points="1571.4,1551.82 1578.22,1558.64 1583.24,1553.62 1576.42,1546.8 1583.24,1539.98 1578.22,1534.96 1571.4,1541.78 1564.58,1534.96 1559.56,1539.98 1566.38,1546.8 1559.56,1553.62 1564.58,1558.64" fill="#ffff00" stroke="#000" stroke-width="0.7"/>
<polygon points="345,1532.22 351.82,1539.04 356.84,1534.02 350.02,1527.2 356.84,1520.38 351.82,1515.36 345,1522.18 338.18,1515.36 333.16,1520.38 339.98,1527.2 333.16,1534.02 338.18,1539.04" fill="#ffff00" stroke="#000" stroke-width="0.7"/>
<polygon points="682.2,1527.52 689.02,1534.34 694.04,1529.32 687.22,1522.5 694.04,1515.68 689.02,1510.66 682.2,1517.48 675.38,1510.66 670.36,1515.68 677.18,1522.5 670.36,1529.32 675.38,1534.34" fill="#ffff00" stroke="#000" stroke-width="0.7"/>
<polygon points="830.6,1525.32 837.42,1532.14 842.44,1527.12 835.62,1520.3 842.44,1513.48 837.42,1508.46 830.6,1515.28 823.78,1508.46 818.76,1513.48 825.58,1520.3 818.76,1527.12 823.78,1532.14" fill="#ffff00" stroke="#000" stroke-width="0.7"/>
<polygon points="456,1503.62 462.82,1510.44 467.84,1505.42 461.02,1498.6 467.84,1491.78 462.82,1486.76 456,1493.58 449.18,1486.76 444.16,1491.78 450.98,1498.6 444.16,1505.42 449.18,1510.44" fill="#ffff00" stroke="#000" stroke-width="0.7"/>
<polygon points="1216.2,1502.82 1223.02,1509.64 1228.04,1504.62 1221.22,1497.8 1228.04,1490.98 1223.02,1485.96 1216.2,1492.78 1209.38,1485.96 1204.36,1490.98 1211.18,1497.8 1204.36,1504.62 1209.38,1509.64" fill="#ffff00" stroke="#000" stroke-width="0.7"/>
<polygon points="987.8,1469.22 994.62,1476.04 999.64,1471.02 992.82,1464.2 999.64,1457.38 994.62,1452.36 987.8,1459.18 980.98,1452.36 975.96,1457.38 982.78,1464.2 975.96,1471.02 980.98,1476.04" fill="#ffff00" stroke="#000" stroke-width="0.7"/>
<polygon points="1438.1,1414.22 1444.92,1421.04 1449.94,1416.02 1443.12,1409.2 1449.94,1402.38 1444.92,1397.36 1438.1,1404.18 1431.28,1397.36 1426.26,1402.38 1433.08,1409.2 1426.26,1416.02 1431.28,1421.04" fill="#ffff00" stroke="#000" stroke-width="0.7"/>
</g>
<rect x="170.5" y="1225.5" width="1628" height="440" fill="none" stroke="#000" stroke-width="3" stroke-linejoin="miter"/>
<line x1="244.5" y1="1665.5" x2="244.5" y2="1680.5" stroke="#000" stroke-width="3"/>
<line x1="539.5" y1="1665.5" x2="539.5" y2="1680.5" stroke="#000" stroke-width="3"/>
<line x1="835.5" y1="1665.5" x2="835.5" y2="1680.5" stroke="#000" stroke-width="3"/>
<line x1="1130.5" y1="1665.5" x2="1130.5" y2="1680.5" stroke="#000" stroke-width="3"/>
<line x1="1426.5" y1="1665.5" x2="1426.5" y2="1680.5" stroke="#000" stroke-width="3"/>
<line x1="1721.5" y1="1665.5" x2="1721.5" y2="1680.5" stroke="#000" stroke-width="3"/>
<line x1="155.5" y1="1610.5" x2="170.5" y2="1610.5" stroke="#000" stroke-width="3"/>
<line x1="155.5" y1="1472.5" x2="170.5" y2="1472.5" stroke="#000" stroke-width="3"/>
<line x1="155.5" y1="1335.5" x2="170.5" y2="1335.5" stroke="#000" stroke-width="3"/>
<text transform="translate(232.59 1725.6) scale(0.9938 1)" font-size="44.2" fill="#000">0</text>
<text transform="translate(500.59 1725.6) scale(1.0562 1)" font-size="44.2" fill="#000">200</text>
<text transform="translate(797.37 1725.6) scale(1.0525 1)" font-size="44.2" fill="#000">400</text>
<text transform="translate(1091.49 1725.6) scale(1.0585 1)" font-size="44.2" fill="#000">600</text>
<text transform="translate(1387.8 1725.6) scale(1.0548 1)" font-size="44.2" fill="#000">800</text>
<text transform="translate(1668.88 1725.6) scale(1.0586 1)" font-size="44.2" fill="#000">1000</text>
<text transform="translate(75.24 1625.1) scale(1.0477 1)" font-size="44.2" fill="#000">0.0</text>
<text transform="translate(76.13 1487.1) scale(1.0349 1)" font-size="44.2" fill="#000">0.5</text>
<text transform="translate(75.36 1350.1) scale(1.0457 1)" font-size="44.2" fill="#000">1.0</text>
<g transform="translate(48.4 1447.4) rotate(-90)">
<text transform="translate(-138.76 0) scale(1.1310 1)" font-size="43.5" fill="#000">elevation [m]</text>
</g>
<text x="174.91" y="1198.2" font-size="50" font-weight="bold">(c)</text>
<text transform="translate(252.27 1199.9) scale(1.0345 1)" font-size="44" fill="#000">Near-coincident ICESat-2 ATL07</text>
<rect x="187" y="1241.1" width="805.1" height="166.9" rx="7" ry="7" fill="#fff" fill-opacity="0.8" stroke="#cccccc" stroke-opacity="0.8" stroke-width="3.4"/>
<circle cx="233.5" cy="1272.4" r="13.6" fill="#000"/>
<circle cx="233.5" cy="1324.4" r="13.6" fill="#000"/><polygon points="233.5,1329.42 240.32,1336.24 245.34,1331.22 238.52,1324.4 245.34,1317.58 240.32,1312.56 233.5,1319.38 226.68,1312.56 221.66,1317.58 228.48,1324.4 221.66,1331.22 226.68,1336.24" fill="#ffff00" stroke="#000" stroke-width="0.7"/>
<rect x="229.9" y="1368.05" width="6.2" height="17.7" fill="#0000ff"/>
<text transform="translate(293.45 1280.8) scale(1.0937 1)" font-size="34.9" fill="#000">invalid obstacle heights</text>
<text transform="translate(294.77 1332.7) scale(1.0844 1)" font-size="34.9" fill="#000">valid obstacle heights, H</text>
<text transform="translate(704.94 1337.4) scale(1.0471 1)" font-size="24.4" font-style="italic" fill="#000">e</text>
<text transform="translate(722.18 1332.7) scale(1.1281 1)" font-size="34.9" fill="#000">=0.41 m</text>
<text transform="translate(294.1 1386) scale(1.0890 1)" font-size="34.9" fill="#000">obstacle spacing start/end, x</text>
<text transform="translate(777.03 1390.4) scale(1.0555 1)" font-size="24.4" font-style="italic" fill="#000">e</text>
<text transform="translate(793.29 1386) scale(1.1196 1)" font-size="34.9" fill="#000">=118.54 m</text>
<text transform="translate(676.54 1788.8) scale(1.1068 1)" font-size="52.3" fill="#000">along-track distance [m]</text>
</svg></body></html>
